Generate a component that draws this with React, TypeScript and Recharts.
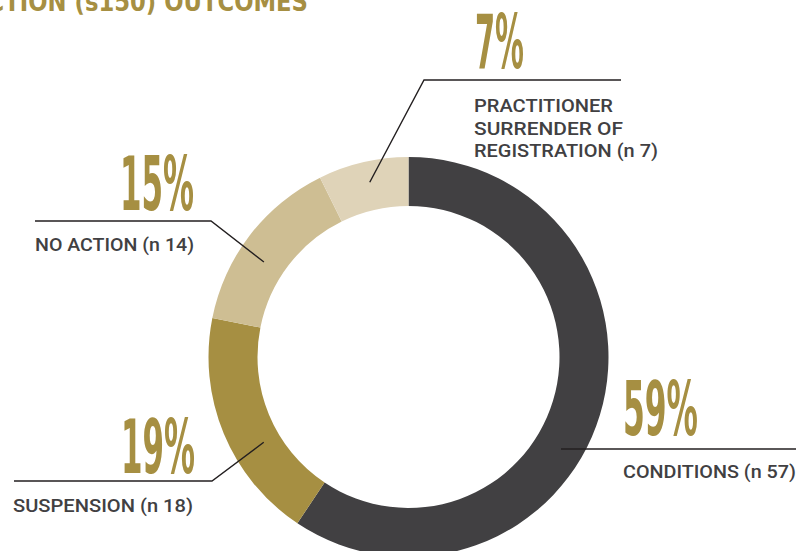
import React from 'react';
import { PieChart, Pie, Cell } from 'recharts';

const categories = ['CONDITIONS', 'SUSPENSION', 'NO ACTION', 'PRACTITIONER SURRENDER OF REGISTRATION'];
const counts = [57, 18, 14, 7];
const labelLines = [
  ['CONDITIONS (n 57)'],
  ['SUSPENSION (n 18)'],
  ['NO ACTION (n 14)'],
  ['PRACTITIONER', 'SURRENDER OF', 'REGISTRATION (n 7)'],
];
const colors = ['#414042', '#a68f42', '#cebe93', '#dfd3b8'];
const titleText = 'ACTION (s150) OUTCOMES';

const data = categories.map((name, i) => ({ name, value: counts[i] }));

const GOLD = '#a68f42';
const GREY = '#414042';
const FONT = "'DejaVu Sans Condensed', Roboto, 'Liberation Sans', sans-serif";
const LABEL_FONT = "Roboto, 'DejaVu Sans', sans-serif";

const layout = [
  { angle: 121, r: 178, elbow: [561, 449], end: [796, 449], pct: { x: 623, y: 435, w: 75, anchor: 'start' }, txt: { x: 623, y: 478, widths: [173] } },
  { angle: 239.5, r: 168, elbow: [212, 481], end: [14, 481], pct: { x: 195, y: 473, w: 74, anchor: 'end' }, txt: { x: 13, y: 512, widths: [180] } },
  { angle: 303.3, r: 173, elbow: [211, 221], end: [35, 221], pct: { x: 194, y: 210, w: 74, anchor: 'end' }, txt: { x: 35, y: 251, widths: [159] } },
  { angle: 347.5, r: 179, elbow: [424, 80], end: [621, 80], pct: { x: 475, y: 68, w: 49, anchor: 'start' }, txt: { x: 474, y: 112, widths: [139, 149, 184] } },
];

const renderLabel = (props: any) => {
  const { cx, cy, index, percent } = props;
  const L = layout[index];
  const a = (L.angle * Math.PI) / 180;
  const sx = cx + L.r * Math.sin(a);
  const sy = cy - L.r * Math.cos(a);
  const pts = index === 0
    ? `${L.elbow[0]},${L.elbow[1]} ${L.end[0]},${L.end[1]}`
    : `${sx},${sy} ${L.elbow[0]},${L.elbow[1]} ${L.end[0]},${L.end[1]}`;
  const pctText = `${Math.round(percent * 100)}%`;
  const pctX = L.pct.anchor === 'end' ? L.pct.x - L.pct.w : L.pct.x;
  return (
    <g key={`lbl-${index}`}>
      <polyline points={pts} fill="none" stroke="#231f20" strokeWidth={1.4} />
      <text
        x={pctX}
        y={L.pct.y}
        fill={GOLD}
        fontFamily={FONT}
        fontWeight={700}
        fontSize={74}
        textLength={L.pct.w}
        lengthAdjust="spacingAndGlyphs"
      >
        {pctText}
      </text>
      {labelLines[index].map((line, j) => (
        <text
          key={j}
          x={L.txt.x}
          y={L.txt.y + j * 22.5}
          fill={GREY}
          fontFamily={LABEL_FONT}
          fontWeight={500}
          fontSize={19}
          textLength={L.txt.widths[j]}
          lengthAdjust="spacingAndGlyphs"
        >
          {line}
        </text>
      ))}
    </g>
  );
};

export default function App() {
  return (
    <div style={{ position: 'absolute', left: 0, top: 0, width: 800, height: 551, background: '#fff' }}>
      <PieChart width={800} height={551} margin={{ top: 0, right: 0, bottom: 0, left: 0 }}>
        <Pie
          data={data}
          dataKey="value"
          nameKey="name"
          cx={408.5}
          cy={357}
          innerRadius={151}
          outerRadius={200}
          startAngle={90}
          endAngle={-270}
          stroke="none"
          isAnimationActive={false}
          label={renderLabel}
          labelLine={false}
        >
          {data.map((d, i) => (
            <Cell key={d.name} fill={colors[i]} />
          ))}
        </Pie>
        <text
          x={-30}
          y={11}
          fill={GOLD}
          fontFamily={FONT}
          fontWeight={700}
          fontSize={26}
          textLength={338}
          lengthAdjust="spacingAndGlyphs"
        >
          {titleText}
        </text>
      </PieChart>
    </div>
  );
}
